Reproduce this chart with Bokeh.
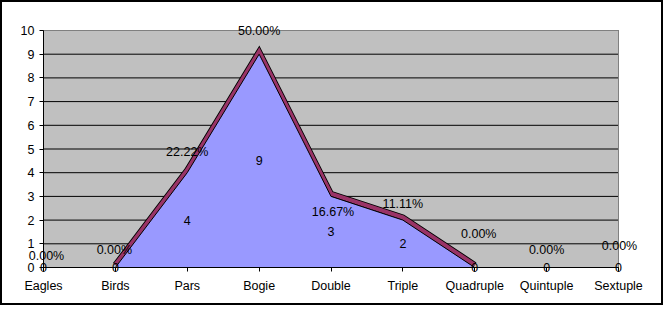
from bokeh.plotting import figure
from bokeh.models import Label, FixedTicker
from bokeh.embed import file_html
from bokeh.resources import INLINE

# ---- data ----
categories = ["Eagles", "Birds", "Pars", "Bogie", "Double", "Triple",
              "Quadruple", "Quintuple", "Sextuple"]
counts = [0, 0, 4, 9, 3, 2, 0, 0, 0]
y_ticks = list(range(0, 11))

# ---- label nudges (screen px) for the percentage labels, as placed in the original ----
pct_dx = [3, -1, 0, 0, 2, 0, 4, 0, 1]
pct_dy = [12, 18, 21, 23, -16, 16, 34, 18, 22]

FONT = "Liberation Sans"
FS = "12.5px"
BLUE = "#9999FF"
MAROON = "#993366"
GRAY = "#C0C0C0"

xs = list(range(len(categories)))
xmax = xs[-1]
ymax = y_ticks[-1]
total = sum(counts)
pcts = ["%.2f%%" % (100.0 * c / total) for c in counts]

# frame is larger than the value area so that labels are not clipped;
# value area: x 0..8 -> canvas 41..616, y 0..10 -> canvas 265..28
W, H = 663, 305
BL, BR, BT, BB = 8, 8, 5, 6
ppx = 575.0 / xmax
ppy = 237.0 / ymax
x0 = -(41 - BL) / ppx
x1 = xmax + ((W - BR) - 616) / ppx
y0 = -((H - BB) - 265) / ppy
y1 = ymax + (28 - BT) / ppy

p = figure(width=W, height=H, x_range=(x0, x1), y_range=(y0, y1),
           output_backend="svg", toolbar_location=None,
           min_border_left=BL, min_border_right=BR, min_border_top=BT, min_border_bottom=BB)
p.styles = {"border": "2px solid black"}
p.background_fill_color = "white"
p.border_fill_color = "white"
p.outline_line_color = None
p.xgrid.visible = False
p.ygrid.visible = False

# plot area background, grid lines and outline
p.quad(left=0, right=xmax, bottom=0, top=ymax, fill_color=GRAY, line_color=None)
p.segment(x0=[0] * len(y_ticks), x1=[xmax] * len(y_ticks), y0=y_ticks, y1=y_ticks,
          line_color="black", line_width=1)
p.line([0, xmax, xmax], [ymax, ymax, 0], line_color="#808080", line_width=1)

# axes at the value origin
p.yaxis.ticker = FixedTicker(ticks=y_ticks)
p.xaxis.ticker = FixedTicker(ticks=xs)
p.xaxis.major_label_overrides = {i: c for i, c in enumerate(categories)}
p.xaxis.fixed_location = 0
p.yaxis.fixed_location = 0
p.xaxis.bounds = (0, xmax)
p.yaxis.bounds = (0, ymax)
for ax in (p.xaxis[0], p.yaxis[0]):
    ax.axis_line_color = "black"
    ax.major_tick_line_color = "black"
    ax.major_tick_out = 4
    ax.major_tick_in = 0
    ax.minor_tick_line_color = None
    ax.major_label_text_font = FONT
    ax.major_label_text_font_size = FS
    ax.major_label_text_color = "black"
p.xaxis.major_label_standoff = 7
p.yaxis.major_label_standoff = 5

# 3D-like top band of the area (only where the area is non-flat)
nz = [i for i, c in enumerate(counts) if c > 0]
lo = max(min(nz) - 1, 0)
hi = min(max(nz) + 1, len(counts) - 1)
band_x = xs[lo:hi + 1]
band_y = [c + 0.11 for c in counts[lo:hi + 1]]
p.line(band_x, band_y, line_color="black", line_width=6, line_join="miter")
p.line(band_x, band_y, line_color=MAROON, line_width=4.2, line_join="miter")

# area
p.varea(x=xs, y1=[0] * len(xs), y2=counts, fill_color=BLUE)
p.line(xs, counts, line_color="black", line_width=1)

# labels
for i, c in enumerate(counts):
    p.add_layout(Label(x=xs[i], y=c / 2, text=str(c),
                       text_align="center", text_baseline="middle",
                       text_font=FONT, text_font_size=FS, text_color="black"))
    p.add_layout(Label(x=xs[i], y=c, text=pcts[i],
                       x_offset=pct_dx[i], y_offset=pct_dy[i],
                       text_align="center", text_baseline="middle",
                       text_font=FONT, text_font_size=FS, text_color="black"))

open("out.html", "w").write(file_html(p, INLINE))
